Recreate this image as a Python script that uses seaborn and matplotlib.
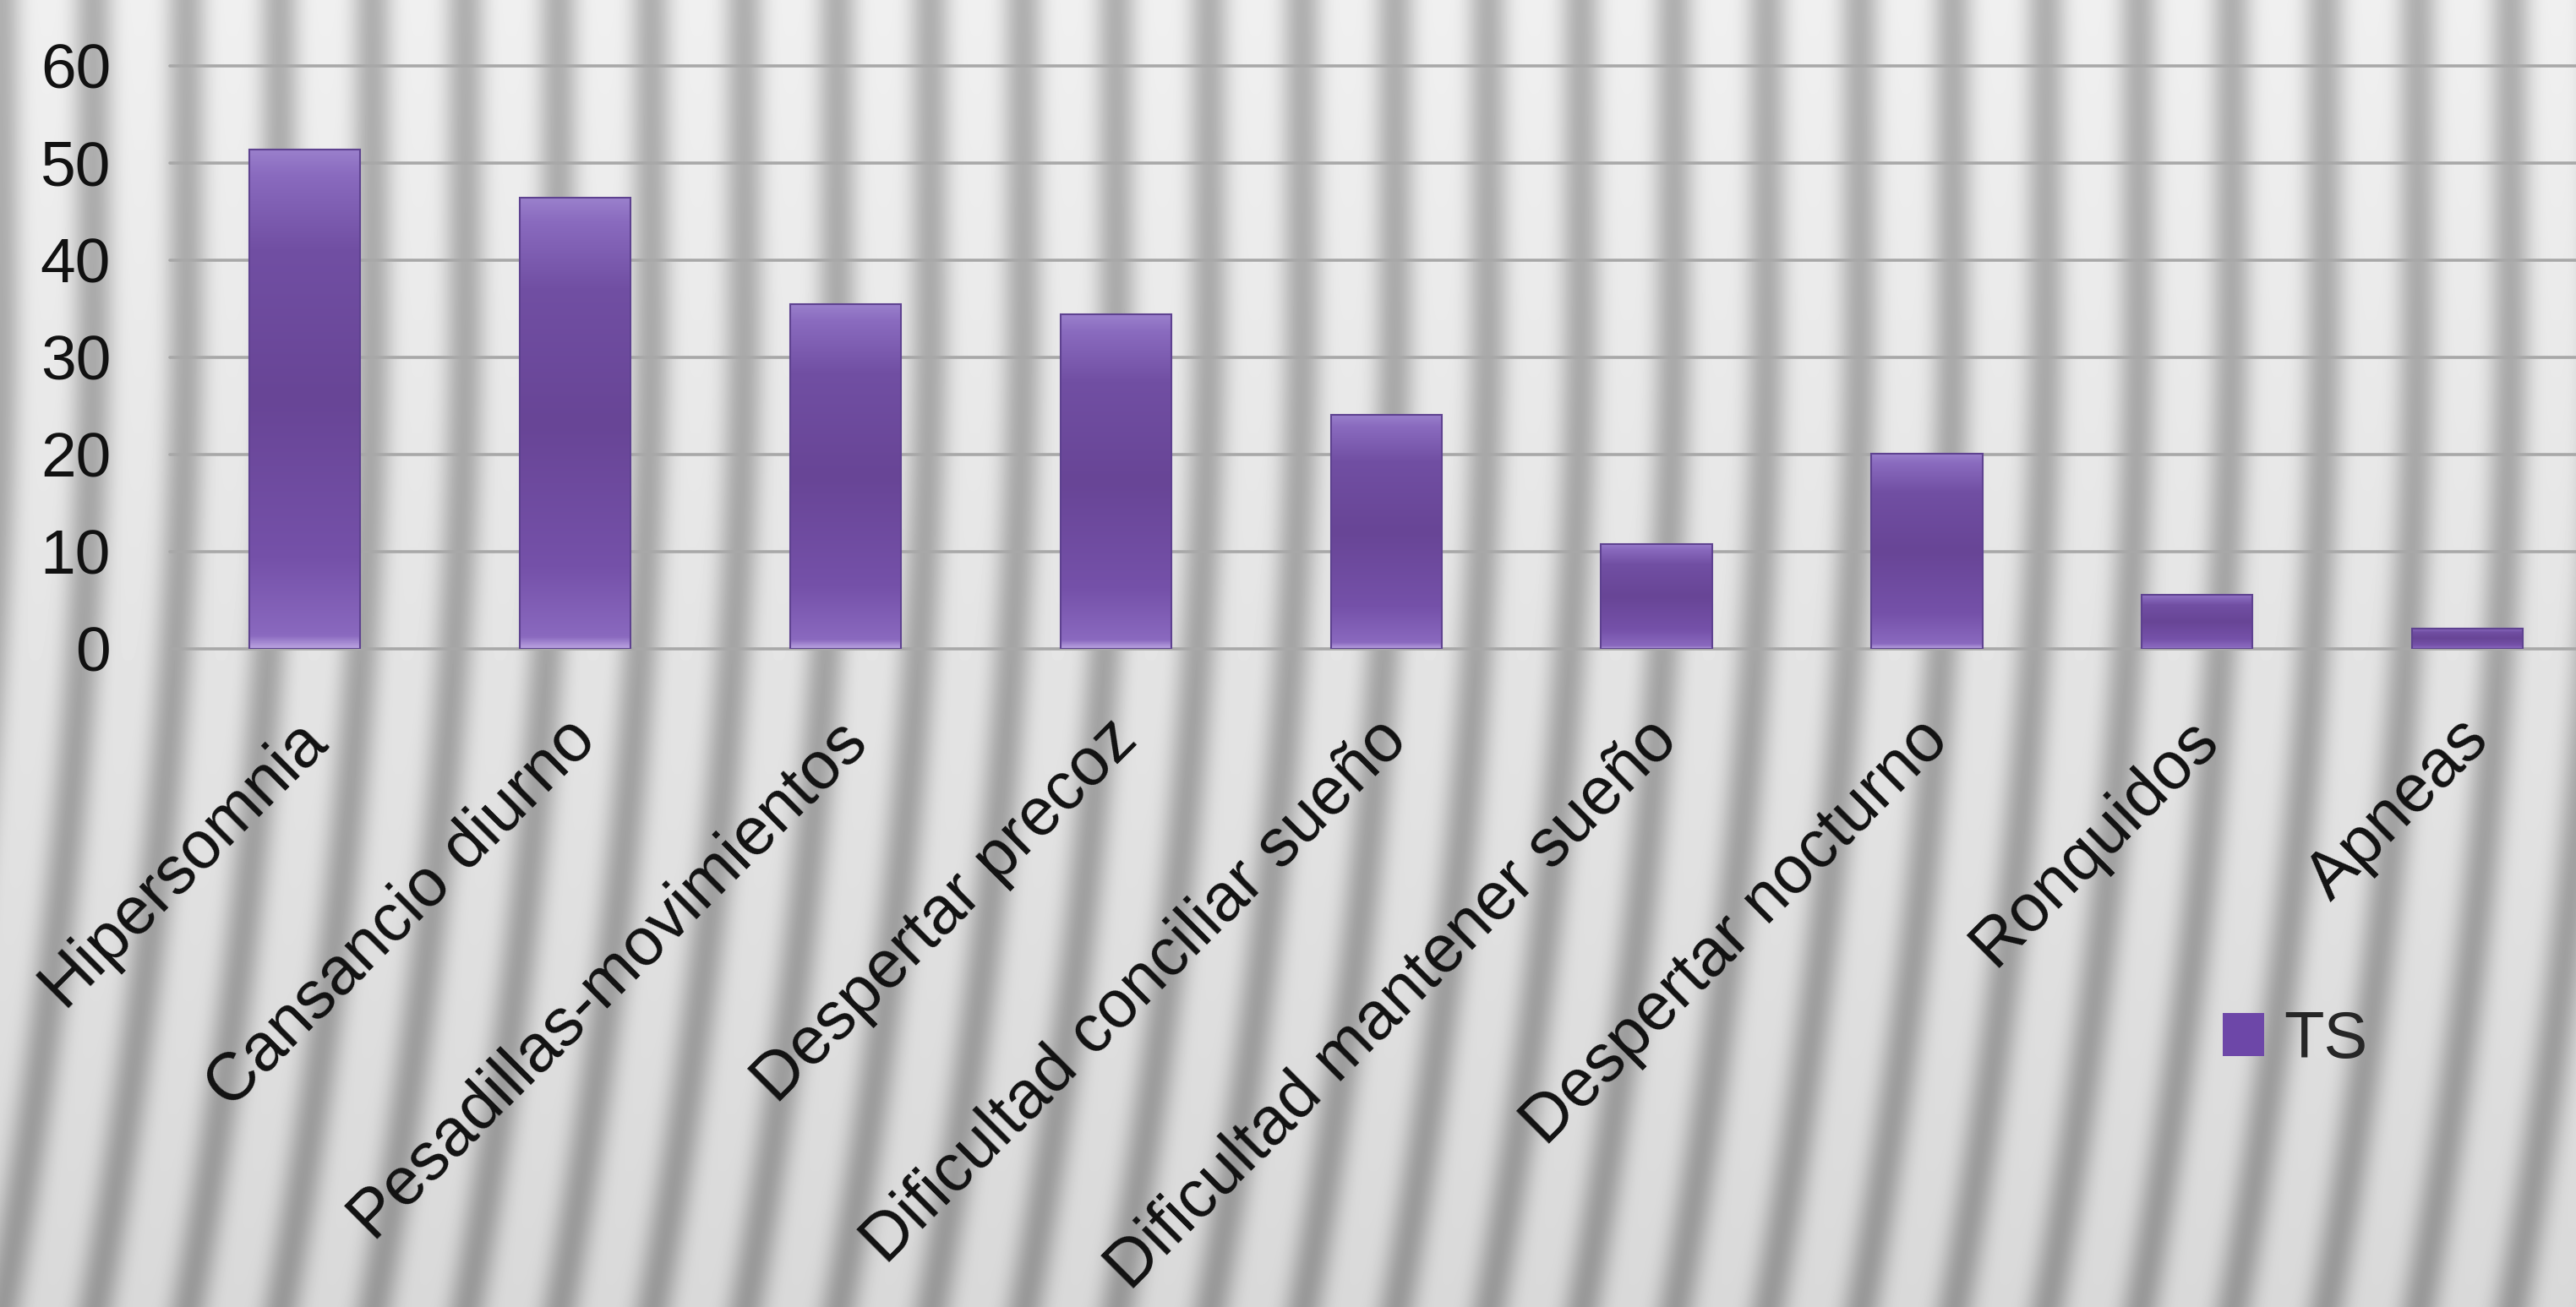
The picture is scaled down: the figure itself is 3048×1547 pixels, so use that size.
import numpy as np
import pandas as pd
import matplotlib
matplotlib.use("Agg")
import matplotlib.pyplot as plt
import matplotlib.transforms as mtransforms
from matplotlib.colors import LinearSegmentedColormap
from matplotlib.patches import Patch
import seaborn as sns

# data
categories = ["Hipersomnia", "Cansancio diurno", "Pesadillas-movimientos",
              "Despertar precoz", "Dificultad conciliar sueño",
              "Dificultad mantener sueño", "Despertar nocturno",
              "Ronquidos", "Apneas"]
ts_values = [51.4, 46.4, 35.5, 34.4, 24.1, 10.8, 20.1, 5.6, 2.1]
series_name = "TS"
y_ticks = [0, 10, 20, 30, 40, 50, 60]

df = pd.DataFrame({"sintoma": categories, "valor": ts_values, "serie": series_name})

sns.set_theme(style="white")
plt.rcParams["font.family"] = ["Liberation Sans", "DejaVu Sans"]

W, H, DPI = 3048, 1547, 100
fig = plt.figure(figsize=(W / DPI, H / DPI), dpi=DPI)

# grey striped backdrop (stripes lean a little towards the bottom)
yy, xx = np.mgrid[0:H, 0:W].astype(float)
bend = 0.09 * np.clip(yy - 350, 0, None) ** 2 / (H - 350)
phase = (xx + bend) / 110.0
band = ((1 + np.cos(2 * np.pi * phase)) / 2) ** 2
tex = 0.94 - 0.25 * band - 0.09 * (yy / H)
bg = fig.add_axes([0, 0, 1, 1])
bg.imshow(tex, cmap="gray", vmin=0, vmax=1, aspect="auto", interpolation="bilinear")
bg.axis("off")
bg.set_zorder(0)

ax = fig.add_axes([0.0658, 0.5036, 0.9446, 0.446])
ax.set_zorder(1)
ax.patch.set_alpha(0)

bar_color = "#6b4898"
edge_color = "#5e4290"
sns.barplot(data=df, x="sintoma", y="valor", hue="serie", palette=[bar_color],
            width=0.41, saturation=1, edgecolor=edge_color, linewidth=1.5,
            legend=False, ax=ax)

# glossy vertical gradient inside each bar
bar_cmap = LinearSegmentedColormap.from_list(
    "bar", [(0.0, "#b9a2e0"), (0.025, "#8a69bf"), (0.18, "#7551a9"),
            (0.5, "#684596"), (0.8, "#714fa3"), (0.95, "#8a6bbf"), (1.0, "#9a80cc")])
grad = np.linspace(0, 1, 256).reshape(-1, 1)
for p in list(ax.patches):
    x0, y0 = p.get_xy()
    w, h = p.get_width(), p.get_height()
    im = ax.imshow(grad, extent=[x0, x0 + w, y0, y0 + h], origin="lower",
                   aspect="auto", cmap=bar_cmap, zorder=2.5)
    im.set_clip_path(p)
    p.set_facecolor("none")
    p.set_zorder(2.6)

ax.set_xlim(-0.5, len(categories) - 0.5)
ax.set_ylim(0, 60)
ax.set_yticks(y_ticks)
ax.yaxis.grid(True, color="#a8a8a8", linewidth=2.6)
ax.set_axisbelow(True)
for l in ax.get_ygridlines():
    l.set_clip_on(False)
for s in ax.spines.values():
    s.set_visible(False)

ax.set_xlabel("")
ax.set_ylabel("")
ax.tick_params(axis="y", length=0, pad=50, labelsize=54, labelcolor="#111111")
ax.tick_params(axis="x", length=0, pad=50, labelsize=57, labelcolor="#111111")
shift = mtransforms.ScaledTranslation(-0.13, 0, fig.dpi_scale_trans)
for lab in ax.get_xticklabels():
    lab.set_rotation(45)
    lab.set_ha("right")
    lab.set_va("top")
    lab.set_rotation_mode("anchor")
    lab.set_transform(lab.get_transform() + shift)

ax.legend(handles=[Patch(facecolor="#6d47a8", edgecolor="none")], labels=[series_name],
          loc="center", bbox_to_anchor=(0.891, 0.204), bbox_transform=fig.transFigure,
          frameon=False, fontsize=56, handlelength=0.62, handleheight=0.62,
          handletextpad=0.3)

fig.savefig("out.png", dpi=DPI)
